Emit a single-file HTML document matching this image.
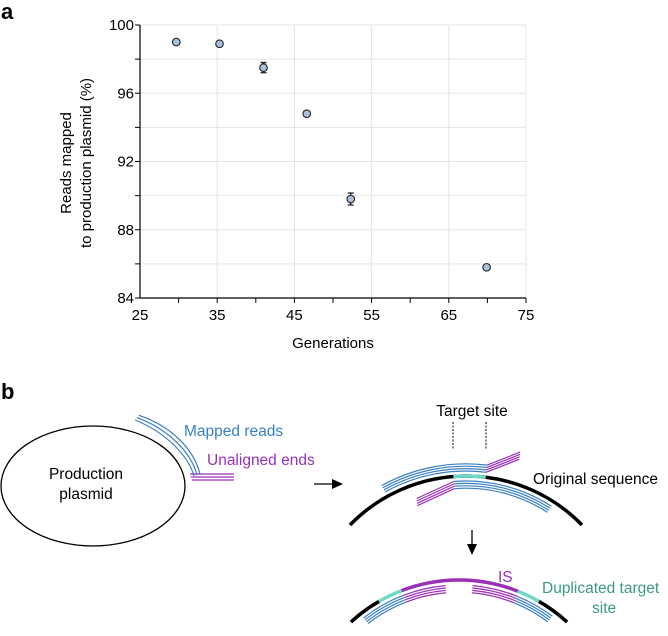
<!DOCTYPE html>
<html><head><meta charset="utf-8"><style>
body{margin:0;background:#fff;overflow:hidden;}
svg{display:block;font-family:"Liberation Sans",sans-serif;}
</style></head><body>
<svg id="s" width="668" height="636" viewBox="0 0 668 636">
<text x="1" y="19" font-size="22" font-weight="bold">a</text>
<g id="grid"></g>
<g id="axes"></g>
<g id="pts"></g>
<text transform="translate(71,163) rotate(-90)" text-anchor="middle" font-size="15"><tspan x="0" dy="0">Reads mapped</tspan><tspan x="0" dy="20">to production plasmid (%)</tspan></text>
<text x="333" y="348" text-anchor="middle" font-size="15">Generations</text>

<text x="1" y="399" font-size="22" font-weight="bold">b</text>
<ellipse cx="93" cy="486" rx="92" ry="60" fill="none" stroke="#000" stroke-width="1.3"/>
<text x="86" y="479" text-anchor="middle" font-size="15.5">Production</text>
<text x="86" y="499" text-anchor="middle" font-size="15.5">plasmid</text>
<g id="plreads"></g>
<text x="184" y="436" font-size="15.5" fill="#3a7fc4">Mapped reads</text>
<text x="207" y="465" font-size="15.5" fill="#9a30b8">Unaligned ends</text>
<line x1="314" y1="484" x2="334" y2="484" stroke="#000" stroke-width="1.3"/>
<polygon points="332,479 343,484 332,489"/>
<text x="472" y="416" text-anchor="middle" font-size="15.5">Target site</text>
<line x1="453" y1="422" x2="453" y2="449" stroke="#000" stroke-dasharray="2,1.5"/>
<line x1="486" y1="422" x2="486" y2="449" stroke="#000" stroke-dasharray="2,1.5"/>
<g id="upper"></g>
<text x="533" y="484" font-size="15.5">Original sequence</text>
<line x1="472" y1="530" x2="472" y2="546" stroke="#000" stroke-width="1.3"/>
<polygon points="467,544 472,555 477,544"/>
<g id="lower"></g>
<text x="498" y="582" font-size="15.5" fill="#9a30b8">IS</text>
<text x="542" y="593" font-size="15.5" fill="#3a9a85">Duplicated target</text>
<text x="592" y="613" font-size="15.5" fill="#3a9a85">site</text>
</svg>
<script>
const xTicks=[25,35,45,55,65,75];
const yTicks=[84,88,92,96,100];
const generations=[29.7,35.3,41.0,46.6,52.3,69.9];
const mapped=[99.0,98.9,97.5,94.8,89.8,85.8];
const errs=[0.15,0.1,0.3,0.15,0.35,0.08];
const NS="http://www.w3.org/2000/svg";
const X0=140,X1=526,Y0=298,Y1=25;
const xs=v=>X0+(v-25)/(75-25)*(X1-X0);
const ys=v=>Y0-(v-84)/(100-84)*(Y0-Y1);
function mk(p,t,a){const e=document.createElementNS(NS,t);for(const k in a)e.setAttribute(k,a[k]);p.appendChild(e);return e;}
const G=document.getElementById('grid'),A=document.getElementById('axes'),P=document.getElementById('pts');
for(let v=30;v<=75;v+=5){if(v%10===5){const l=mk(G,'line',{x1:xs(v),x2:xs(v),y1:Y1,y2:Y0,stroke:'#e4e4e4'});

}
const t=mk(A,'line',{x1:xs(v),x2:xs(v),y1:Y0,y2:Y0+5,stroke:'#000'});

}
for(let v=86;v<=100;v+=2){const l=mk(G,'line',{x1:X0,x2:X1,y1:ys(v),y2:ys(v),stroke:'#e4e4e4'});

}
for(let v=84;v<=100;v+=2){const t=mk(A,'line',{x1:X0-5,x2:X0,y1:ys(v),y2:ys(v),stroke:'#000'});

}
mk(A,'line',{x1:X0,x2:X0,y1:Y1,y2:Y0,stroke:'#000','stroke-width':1.2});
mk(A,'line',{x1:X0,x2:X1,y1:Y0,y2:Y0,stroke:'#000','stroke-width':1.2});
xTicks.forEach(v=>{const t=mk(A,'text',{x:xs(v),y:Y0+22,'text-anchor':'middle','font-size':15});t.textContent=v;

});
yTicks.forEach(v=>{const t=mk(A,'text',{x:X0-6,y:ys(v)+5,'text-anchor':'end','font-size':15});t.textContent=v;

});
generations.forEach((g,i)=>{const x=xs(g),y=ys(mapped[i]);
const b=mk(P,'path',{d:`M${x},${ys(mapped[i]+errs[i])}V${ys(mapped[i]-errs[i])}M${x-3},${ys(mapped[i]+errs[i])}h6M${x-3},${ys(mapped[i]-errs[i])}h6`,stroke:'#222','stroke-width':1.3,fill:'none'});


const c=mk(P,'circle',{cx:x,cy:y,r:3.8,fill:'#a9c0dc',stroke:'#222','stroke-width':1.1});

});
const rad=d=>d*Math.PI/180;
function pt(cx,cy,r,a){return [cx+r*Math.sin(rad(a)),cy-r*Math.cos(rad(a))];}
function arc(g,cx,cy,r,a1,a2,col,w){const p1=pt(cx,cy,r,a1),p2=pt(cx,cy,r,a2);
return mk(g,'path',{d:`M${p1[0]},${p1[1]}A${r},${r} 0 0 1 ${p2[0]},${p2[1]}`,fill:'none',stroke:col,'stroke-width':w});}
const BL='#3a7fc4',PU='#9a30b8',TE='#6fd8c8';
const PR=document.getElementById('plreads');
for(let k=0;k<3;k++){const o=k*3;
mk(PR,'path',{d:`M${135+o*0.6},${420-o*0.8} C${165+o},${432-o} ${188+o},${455-o} ${194+o},${476-o*0.3}`,fill:'none',stroke:BL,'stroke-width':1.2});
mk(PR,'line',{x1:190+o*0.3,y1:474+o,x2:234,y2:474+o,stroke:PU,'stroke-width':1.2});}
const U=document.getElementById('upper');const ucx=466,ucy=637.8,ur=161.8;
arc(U,ucx,ucy,ur,-45.8,45.8,'#000',3.5);arc(U,ucx,ucy,ur,-4.5,7,TE,3.5);
for(let k=0;k<4;k++){const r=ur+5+k*2.4;arc(U,ucx,ucy,r,-29,7,BL,1.2);
const p=pt(ucx,ucy,r,7);mk(U,'line',{x1:p[0],y1:p[1],x2:p[0]+33,y2:p[1]-13,stroke:PU,'stroke-width':1.2});
const r2=ur-5-k*2.4;arc(U,ucx,ucy,r2,-4.5,33,BL,1.2);
const q=pt(ucx,ucy,r2,-4.5);mk(U,'line',{x1:q[0],y1:q[1],x2:q[0]-37,y2:q[1]+17,stroke:PU,'stroke-width':1.2});}
const L=document.getElementById('lower');const lcx=459,lcy=740,lr=160;
arc(L,lcx,lcy,lr,-42.5,-30,'#000',3.5);arc(L,lcx,lcy,lr,-30,-21,TE,3.5);arc(L,lcx,lcy,lr,-21,21.6,PU,3.5);arc(L,lcx,lcy,lr,21.6,30,TE,3.5);arc(L,lcx,lcy,lr,30,42.5,'#000',3.5);
for(let k=0;k<4;k++){const r=lr-5-k*2.4;arc(L,lcx,lcy,r,-38,-21,BL,1.2);arc(L,lcx,lcy,r,-21,-5,PU,1.2);arc(L,lcx,lcy,r,5,22,PU,1.2);arc(L,lcx,lcy,r,22,37,BL,1.2);}
</script>
</body></html>
